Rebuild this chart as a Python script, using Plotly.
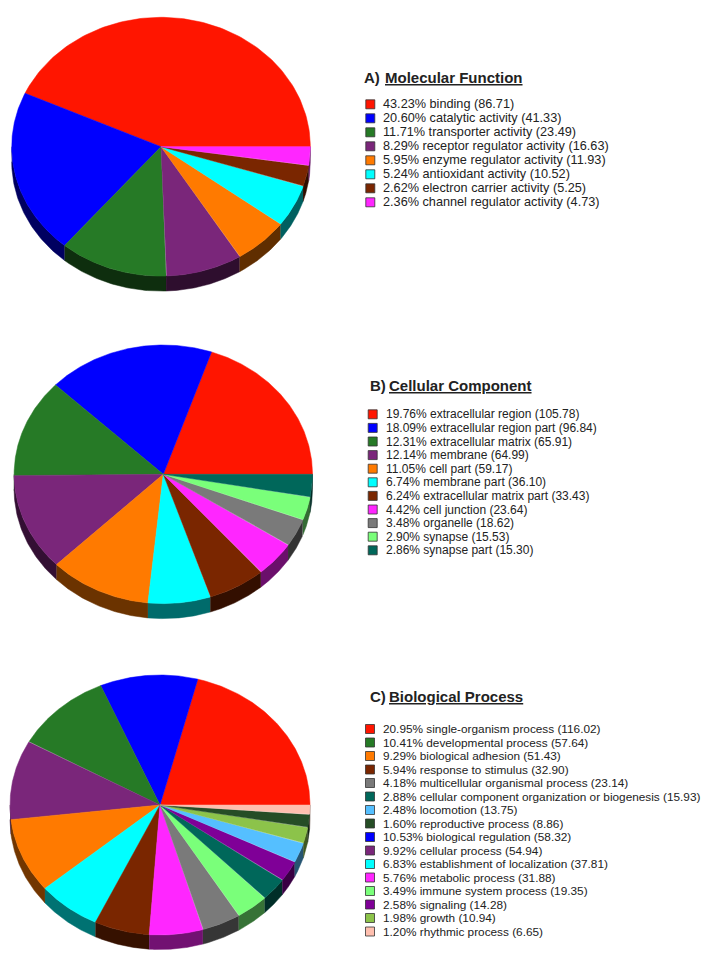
import numpy as np
import plotly.graph_objects as go

# %% data
mf_title = "Molecular Function"
mf_names = ["binding", "catalytic activity", "transporter activity", "receptor regulator activity",
            "enzyme regulator activity", "antioxidant activity", "electron carrier activity",
            "channel regulator activity"]
mf_pct = [43.23, 20.60, 11.71, 8.29, 5.95, 5.24, 2.62, 2.36]
mf_count = [86.71, 41.33, 23.49, 16.63, 11.93, 10.52, 5.25, 4.73]
mf_colors = ["#ff1500", "#0000ff", "#267a26", "#7a267a", "#ff7a00", "#00ffff", "#7a2600", "#ff26ff"]

cc_title = "Cellular Component"
cc_names = ["extracellular region", "extracellular region part", "extracellular matrix", "membrane",
            "cell part", "membrane part", "extracellular matrix part", "cell junction", "organelle",
            "synapse", "synapse part"]
cc_pct = [19.76, 18.09, 12.31, 12.14, 11.05, 6.74, 6.24, 4.42, 3.48, 2.90, 2.86]
cc_count = [105.78, 96.84, 65.91, 64.99, 59.17, 36.10, 33.43, 23.64, 18.62, 15.53, 15.30]
cc_colors = ["#ff1500", "#0000ff", "#267a26", "#7a267a", "#ff7a00", "#00ffff", "#7a2600", "#ff26ff",
             "#7a7a7a", "#7aff7a", "#00675a"]

# legend order of panel C differs from the slice order, slices are sorted by value below
bp_title = "Biological Process"
bp_names = ["single-organism process", "developmental process", "biological adhesion", "response to stimulus",
            "multicellular organismal process", "cellular component organization or biogenesis", "locomotion",
            "reproductive process", "biological regulation", "cellular process", "establishment of localization",
            "metabolic process", "immune system process", "signaling", "growth", "rhythmic process"]
bp_pct = [20.95, 10.41, 9.29, 5.94, 4.18, 2.88, 2.48, 1.60, 10.53, 9.92, 6.83, 5.76, 3.49, 2.58, 1.98, 1.20]
bp_count = [116.02, 57.64, 51.43, 32.90, 23.14, 15.93, 13.75, 8.86, 58.32, 54.94, 37.81, 31.88, 19.35, 14.28,
            10.94, 6.65]
bp_colors = ["#ff1500", "#267a26", "#ff7a00", "#7a2600", "#7a7a7a", "#00675a", "#55bfff", "#264d26",
             "#0000ff", "#7a267a", "#00ffff", "#ff26ff", "#7aff7a", "#7f0097", "#8cc34a", "#ffbfaf"]

# %% layout of each panel, pixels of the page
panels = [
    dict(letter="A)", title=mf_title, names=mf_names, pct=mf_pct, count=mf_count, colors=mf_colors,
         cx=161, cy=146.7, rx=149.3, ry=129.4, depth=15, shade=0.38, size=12.7,
         letter_x=364.3, head_x=384.7, head_y=77.3, sw_x=370.3, text_x=383.3, first_y=104.3, step=14.0),
    dict(letter="B)", title=cc_title, names=cc_names, pct=cc_pct, count=cc_count, colors=cc_colors,
         cx=163.3, cy=474.3, rx=149.2, ry=129.3, depth=15, shade=0.42, size=12,
         letter_x=370, head_x=389.3, head_y=385.3, sw_x=372.7, text_x=385.7, first_y=414.3, step=13.6),
    dict(letter="C)", title=bp_title, names=bp_names, pct=bp_pct, count=bp_count, colors=bp_colors,
         cx=160, cy=805, rx=150, ry=130, depth=14.5, shade=0.45, size=11.8,
         letter_x=370, head_x=389.3, head_y=696.7, sw_x=370, text_x=382.7, first_y=729, step=13.5),
]

FONT = "Liberation Sans, Arial, sans-serif"
INK = "#222222"


def darken(color, factor):
    r, g, b = (int(color[i:i + 2], 16) for i in (1, 3, 5))
    return f"rgb({int(r * factor)},{int(g * factor)},{int(b * factor)})"


def add_pie(fig, p):
    """Tilted pie, counterclockwise from 3 o'clock, largest slice first"""
    order = np.argsort(p["pct"])[::-1]
    values = np.array(p["pct"])[order]
    colors = [p["colors"][i] for i in order]
    names = [p["names"][i] for i in order]
    edges = 2 * np.pi * np.concatenate(([0], np.cumsum(values))) / values.sum()
    cx, cy, rx, ry, depth = p["cx"], p["cy"], p["rx"], p["ry"], p["depth"]

    # side wall first, only the front half of the disc shows it
    for k in range(len(values)):
        a0, a1 = max(edges[k], np.pi), edges[k + 1]
        if a1 <= a0:
            continue
        t = np.linspace(a0, a1, 60)
        x = cx + rx * np.cos(t)
        y = cy - ry * np.sin(t)
        side = darken(colors[k], p["shade"])
        fig.add_trace(go.Scatter(
            x=np.concatenate((x, x[::-1])), y=np.concatenate((y, y[::-1] + depth)),
            mode="lines", fill="toself", fillcolor=side, line=dict(color=side, width=0.5), hoverinfo="skip",
        ))

    for k in range(len(values)):
        t = np.linspace(edges[k], edges[k + 1], 120)
        fig.add_trace(go.Scatter(
            x=np.concatenate(([cx], cx + rx * np.cos(t), [cx])),
            y=np.concatenate(([cy], cy - ry * np.sin(t), [cy])),
            mode="lines", fill="toself", fillcolor=colors[k],
            line=dict(color=colors[k], width=0.5), name=names[k], hoverinfo="name",
        ))


def add_legend(fig, p):
    ys = [p["first_y"] + i * p["step"] for i in range(len(p["names"]))]
    labels = [f"{v:.2f}% {n} ({c:.2f})" for v, n, c in zip(p["pct"], p["names"], p["count"])]
    fig.add_trace(go.Scatter(
        x=[p["sw_x"]] * len(ys), y=ys, mode="markers", hoverinfo="skip",
        marker=dict(symbol="square", size=9, color=p["colors"], line=dict(color="#333333", width=0.8)),
    ))
    for y, label in zip(ys, labels):
        fig.add_annotation(x=p["text_x"], y=y, text=label, showarrow=False, xanchor="left", yanchor="middle",
                           xshift=-2, font=dict(family=FONT, size=p["size"], color=INK))
    fig.add_annotation(x=p["letter_x"], y=p["head_y"], text=f"<b>{p['letter']}</b>", showarrow=False,
                       xanchor="left", yanchor="middle", xshift=-2, font=dict(family=FONT, size=15, color=INK))
    fig.add_annotation(x=p["head_x"], y=p["head_y"], text=f"<b>{p['title']}</b>", showarrow=False,
                       xanchor="left", yanchor="middle", xshift=-2,
                       font=dict(family=FONT, size=15, color=INK, lineposition="under"))


# %% figure
fig = go.Figure()
for p in panels:
    add_pie(fig, p)
    add_legend(fig, p)

fig.update_layout(
    width=701, height=959, margin=dict(l=0, r=0, t=0, b=0),
    paper_bgcolor="white", plot_bgcolor="white", showlegend=False,
    xaxis=dict(range=[0, 701], visible=False, fixedrange=True),
    yaxis=dict(range=[959, 0], visible=False, fixedrange=True),
)
fig.write_html("out.html", config=dict(displayModeBar=False),
               post_script="document.body.style.margin='0';document.body.style.overflow='hidden';")
